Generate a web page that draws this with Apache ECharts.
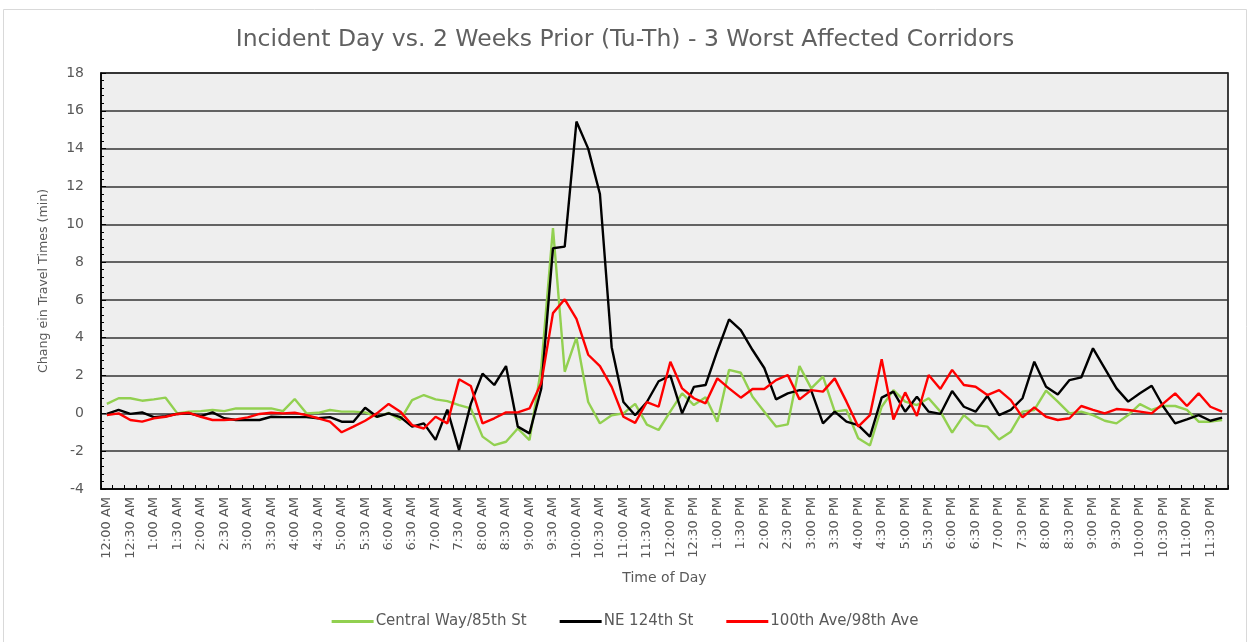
<!DOCTYPE html>
<html>
<head>
<meta charset="utf-8">
<script src="https://cdn.jsdelivr.net/npm/echarts@6/dist/echarts.min.js"></script>
<style>
  html, body { margin: 0; padding: 0; background: #fff; }
  #main { width: 1250px; height: 642px; }
</style>
</head>
<body>
<div id="main"></div>
<script>
var myChart = echarts.init(document.getElementById('main'));

// 15-minute slots, 12:00 AM .. 11:45 PM
var times = [];
for (var h = 0; h < 24; h++) {
    for (var m = 0; m < 60; m += 15) {
        var hh = h % 12 === 0 ? 12 : h % 12;
        times.push(hh + ':' + (m < 10 ? '0' + m : m) + (h < 12 ? ' AM' : ' PM'));
    }
}

var seriesNames = ['Central Way/85th St', 'NE 124th St', '100th Ave/98th Ave'];

var centralWay = [
    0.5, 0.8, 0.8, 0.67, 0.74, 0.83, 0.0, 0.09, 0.12, 0.18, 0.12, 0.26,
    0.26, 0.26, 0.26, 0.12, 0.76, 0.0, 0.03, 0.18, 0.09, 0.09, 0.05, -0.18,
    0.03, -0.35, 0.7, 0.97, 0.74, 0.65, 0.44, 0.26, -1.23, -1.68, -1.5, -0.8,
    -1.41, 2.4, 9.8, 2.2, 4.0, 0.6, -0.53, -0.1, 0.0, 0.5, -0.6, -0.88,
    0.1, 1.06, 0.44, 0.85, -0.44, 2.3, 2.15, 0.88, 0.09, -0.7, -0.58, 2.5,
    1.32, 1.94, 0.09, 0.18, -1.32, -1.7, 0.35, 1.23, 0.62, 0.44, 0.8, 0.09,
    -1.02, -0.09, -0.62, -0.7, -1.38, -0.97, 0.09, 0.18, 1.2, 0.62, 0.0, 0.09,
    -0.09, -0.39, -0.53, -0.09, 0.49, 0.18, 0.39, 0.39, 0.18, -0.44, -0.44, -0.35
];

var ne124th = [
    -0.03, 0.18, -0.03, 0.05, -0.2, -0.15, -0.03, 0.0, -0.15, 0.05, -0.26, -0.35,
    -0.35, -0.35, -0.18, -0.2, -0.2, -0.2, -0.26, -0.2, -0.44, -0.44, 0.3, -0.18,
    0.0, -0.2, -0.7, -0.53, -1.4, 0.2, -1.94, 0.5, 2.1, 1.5, 2.5, -0.7,
    -1.06, 1.3, 8.73, 8.82, 15.43, 14.0, 11.6, 3.5, 0.6, -0.1, 0.6, 1.7,
    2.0, 0.0, 1.4, 1.5, 3.3, 4.97, 4.4, 3.35, 2.4, 0.74, 1.06, 1.23,
    1.2, -0.53, 0.09, -0.44, -0.62, -1.23, 0.83, 1.15, 0.09, 0.88, 0.09, -0.03,
    1.18, 0.35, 0.09, 0.92, -0.09, 0.18, 0.8, 2.73, 1.41, 1.0, 1.76, 1.9,
    3.44, 2.38, 1.32, 0.62, 1.06, 1.46, 0.35, -0.53, -0.32, -0.09, -0.39, -0.23
];

var ave100th = [
    -0.09, 0.0, -0.35, -0.44, -0.26, -0.18, -0.03, 0.03, -0.18, -0.35, -0.35, -0.32,
    -0.21, -0.03, 0.03, 0.0, 0.03, -0.09, -0.26, -0.44, -1.0, -0.7, -0.39, 0.0,
    0.5, 0.09, -0.62, -0.8, -0.18, -0.53, 1.8, 1.45, -0.53, -0.26, 0.05, 0.05,
    0.26, 1.6, 5.3, 6.03, 5.0, 3.1, 2.5, 1.4, -0.18, -0.5, 0.6, 0.35,
    2.73, 1.32, 0.8, 0.53, 1.85, 1.32, 0.83, 1.29, 1.29, 1.76, 2.03, 0.74,
    1.23, 1.15, 1.85, 0.62, -0.7, -0.09, 2.86, -0.32, 1.11, -0.14, 2.03, 1.29,
    2.3, 1.5, 1.41, 0.97, 1.23, 0.7, -0.21, 0.32, -0.18, -0.35, -0.26, 0.39,
    0.18, 0.0, 0.23, 0.18, 0.09, 0.0, 0.53, 1.06, 0.39, 1.06, 0.35, 0.09
];

var colors = ['#92D050', '#000000', '#FF0000'];
var textColor = '#595959';
var font = '"DejaVu Sans", "Open Sans", sans-serif';

function lineSeries(name, data, color) {
    return {
        name: name,
        type: 'line',
        data: data,
        symbol: 'none',
        smooth: false,
        lineStyle: { color: color, width: 2.4 },
        itemStyle: { color: color }
    };
}

var option = {
    backgroundColor: '#ffffff',
    animation: false,
    textStyle: { fontFamily: font },
    title: {
        text: 'Incident Day vs. 2 Weeks Prior (Tu-Th) - 3 Worst Affected Corridors',
        left: 'center',
        top: 23,
        textStyle: { color: '#606060', fontSize: 23.5, fontWeight: 'normal', fontFamily: font }
    },
    graphic: [{
        type: 'rect',
        shape: { x: 3.5, y: 9.5, width: 1243, height: 640 },
        style: { fill: 'none', stroke: '#d9d9d9', lineWidth: 1 },
        silent: true
    }],
    legend: {
        bottom: 8,
        left: 'center',
        itemWidth: 42,
        itemHeight: 3,
        itemGap: 33,
        icon: 'rect',
        textStyle: { color: textColor, fontSize: 15, fontFamily: font, padding: [0, 0, 0, -3] },
        data: seriesNames
    },
    grid: {
        left: 101,
        right: 22,
        top: 73,
        bottom: 153,
        show: true,
        backgroundColor: '#eeeeee',
        borderColor: '#000000',
        borderWidth: 1.5
    },
    xAxis: {
        type: 'category',
        data: times,
        boundaryGap: true,
        name: 'Time of Day',
        nameLocation: 'middle',
        nameGap: 82,
        nameTextStyle: { color: textColor, fontSize: 14, fontFamily: font },
        axisLine: { onZero: false, lineStyle: { color: '#000', width: 1.5 } },
        axisTick: { show: true, inside: true, interval: 0, length: 4, lineStyle: { color: '#000' } },
        axisLabel: {
            interval: 1,
            rotate: 90,
            color: textColor,
            fontSize: 13,
            fontFamily: font,
            margin: 8
        },
        splitLine: { show: false }
    },
    yAxis: {
        type: 'value',
        min: -4,
        max: 18,
        interval: 2,
        name: 'Chang ein Travel Times (min)',
        nameLocation: 'middle',
        nameGap: 51,
        nameTextStyle: { color: textColor, fontSize: 12.6, fontFamily: font },
        axisLine: { show: true, lineStyle: { color: '#000', width: 1.5 } },
        axisTick: { show: true, inside: true, length: 5, lineStyle: { color: '#000' } },
        minorTick: { show: true, splitNumber: 5, length: 3, lineStyle: { color: '#000' } },
        axisLabel: { color: textColor, fontSize: 14, fontFamily: font, margin: 17 },
        splitLine: { show: true, lineStyle: { color: '#333333', width: 1.5 } }
    },
    series: [
        lineSeries(seriesNames[0], centralWay, colors[0]),
        lineSeries(seriesNames[1], ne124th, colors[1]),
        lineSeries(seriesNames[2], ave100th, colors[2])
    ]
};

myChart.setOption(option);
</script>
</body>
</html>
